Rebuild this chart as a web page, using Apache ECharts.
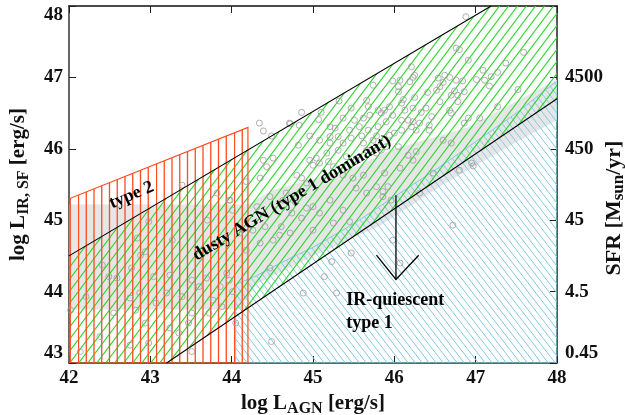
<!DOCTYPE html>
<html><head><meta charset="utf-8">
<script src="https://cdn.jsdelivr.net/npm/echarts@6/dist/echarts.min.js"></script>
<style>html,body{margin:0;padding:0;background:#fff}#c{width:625px;height:415px}</style>
</head><body><div id="c"></div>
<script>
// ---------- data ----------
const xTicks = [42, 43, 44, 45, 46, 47, 48];
const yTicks = [43, 44, 45, 46, 47, 48];
const sfrLabels = ['0.45', '4.5', '45', '450', '4500', ''];

// dusty AGN band borders
const dustyUpperX = [42, 47.19];
const dustyUpperY = [44.5, 48];
const dustyLowerX = [43.2, 48];
const dustyLowerY = [43, 46.7];

// type 2 region
const type2X = [42, 42, 44.2, 44.2];
const type2Y = [43, 45.3, 46.3, 43];

// IR-quiescent type 1 region
const quiescentX = [44.05, 44.05, 44.3, 44.6, 45.0, 45.5, 46.0, 46.5, 47.0, 47.5, 48, 48];
const quiescentY = [43, 44.1, 44.22, 44.4, 44.62, 44.95, 45.33, 45.7, 46.1, 46.5, 46.95, 43];

// grey shaded locus
const greyX = [42, 44.1, 44.3, 45.0, 45.82, 46.6, 47.54, 48, 48, 46.9, 45.94, 45.54, 44.5, 44.2, 42];
const greyY = [43.75, 43.75, 44.1, 44.5, 44.92, 45.5, 46.12, 46.4, 46.97, 46.3, 45.98, 45.75, 45.42, 45.22, 45.22];

// sources
const agnX = [
43.39,43.82,43.97,43.70,43.27,42.98,42.84,42.41,42.49,42.59,
43.04,42.88,42.94,43.51,43.60,43.39,43.97,44.01,43.88,43.72,
43.51,43.07,42.82,42.55,42.21,42.02,42.14,42.98,43.35,43.47,
43.51,42.94,44.05,42.77,43.24,43.69,43.20,42.87,42.75,43.24,
42.75,42.38,43.86,43.94,43.77,
44.18,44.35,44.51,44.47,44.49,44.88,45.00,44.72,44.26,44.10,
44.41,44.61,44.59,
44.34,44.39,44.71,44.49,44.39,44.51,44.43,44.35,44.18,44.67,
44.63,44.47,44.31,43.98,44.01,
44.82,45.08,45.21,45.37,45.31,45.17,45.04,44.96,45.08,45.00,
45.19,45.25,45.41,45.53,45.66,45.78,45.62,45.74,45.90,
44.80,44.86,44.92,44.78,44.92,45.00,44.86,44.74,
45.37,45.49,45.62,45.53,45.66,45.78,45.86,45.21,45.08,45.37,45.45,45.25,
45.32,44.86,45.10,45.07,44.83,44.72,44.96,45.66,45.74,45.47,
45.68,45.80,45.37,45.51,45.62,45.70,45.21,45.27,45.57,45.45,
45.68,45.80,45.31,45.47,45.60,45.78,45.21,
45.98,45.47,45.23,45.14,45.29,46.07,
46.88,46.76,46.80,46.91,47.59,47.37,46.21,47.09,47.27,46.25,
46.23,46.62,46.68,46.54,46.19,45.98,46.07,46.76,46.84,47.01,
47.11,47.19,46.60,46.56,47.17,46.05,46.05,46.41,46.52,46.74,
46.86,46.70,46.78,47.52,46.25,46.11,46.09,46.56,46.78,46.39,
46.23,46.13,45.94,45.88,45.84,45.98,46.68,46.70,46.33,47.27,
46.46,46.17,46.23,46.09,45.90,46.31,46.43,46.91,47.05,46.86,
46.21,46.09,46.00,45.94,46.43,46.27,
46.05,45.84,46.17,46.27,46.23,46.07,45.88,45.92,45.86,45.96,
46.60,46.70,46.80,46.95,46.97,46.48,46.72,46.31
];
const agnY = [
45.49,45.38,45.28,45.00,44.72,44.98,44.75,44.37,44.21,44.19,
44.21,44.51,44.56,44.16,44.07,43.93,44.16,44.00,43.79,43.70,
43.70,43.84,43.74,43.70,43.93,43.74,43.16,43.28,43.42,43.56,
43.16,43.56,43.56,44.33,44.23,44.19,43.98,43.98,43.91,43.49,
43.25,43.37,44.07,44.26,43.88,
44.58,44.68,44.72,44.33,43.30,43.98,44.86,44.82,44.86,44.82,
44.91,44.91,44.79,
46.36,46.25,46.36,46.18,45.84,45.87,45.75,45.59,45.54,45.38,
45.28,45.33,45.19,45.28,45.14,
46.05,46.12,46.08,46.08,45.98,45.94,45.87,45.84,45.80,45.77,
45.82,45.75,45.89,45.84,45.98,45.94,46.08,46.12,46.03,
45.63,45.59,45.52,45.26,45.17,45.19,45.03,45.10,
45.63,45.59,45.63,45.45,45.38,45.47,45.33,45.28,45.10,45.14,44.98,44.96,
46.67,46.51,46.51,46.41,46.33,46.35,46.18,46.68,46.89,46.57,
46.59,46.54,46.43,46.40,46.43,46.47,46.31,46.29,46.31,46.26,
46.26,46.31,46.17,46.15,46.18,46.18,46.17,
44.72,44.54,44.42,44.21,43.98,44.40,
47.85,47.41,47.39,47.24,47.35,47.20,47.15,47.10,47.07,47.03,
47.00,47.03,47.00,46.99,46.94,46.95,46.96,46.96,46.95,46.97,
46.96,47.01,46.93,46.87,46.88,46.87,46.80,46.79,46.82,46.81,
46.80,46.75,46.75,46.83,46.72,46.69,46.64,46.66,46.66,46.57,
46.57,46.54,46.59,46.54,46.50,46.47,46.54,46.50,46.51,46.59,
46.45,46.40,46.38,46.40,46.38,46.36,46.33,46.43,46.43,46.36,
46.31,46.26,46.22,46.19,46.26,46.26,
46.03,45.98,45.91,45.96,45.84,45.73,45.66,45.47,45.40,45.28,
46.12,46.08,45.70,45.80,45.76,45.66,44.93,45.38
];

// ---------- styling helpers ----------
const FONT = '"Liberation Serif","Times New Roman",serif';
const xMin = xTicks[0], xMax = xTicks[xTicks.length - 1];
const yMin = yTicks[0], yMax = yTicks[yTicks.length - 1];

function hatch(w, h, color, dir, lw) {
  const c = document.createElement('canvas');
  c.width = w; c.height = h;
  const g = c.getContext('2d');
  g.strokeStyle = color; g.lineWidth = lw;
  g.beginPath();
  for (const o of [-w, 0, w]) {
    if (dir === '/') { g.moveTo(o - w, 2 * h); g.lineTo(o + 2 * w, -h); }
    else { g.moveTo(o - w, -h); g.lineTo(o + 2 * w, 2 * h); }
  }
  g.stroke();
  return { image: c, repeat: 'repeat' };
}
function vhatch(spacing, n, color, lw) {
  const w = Math.round(spacing * n);
  const c = document.createElement('canvas');
  c.width = w; c.height = 4;
  const g = c.getContext('2d');
  g.strokeStyle = color; g.lineWidth = lw;
  g.beginPath();
  for (let i = 0; i < n; i++) { const x = 0.5 + i * spacing; g.moveTo(x, 0); g.lineTo(x, 4); }
  g.stroke();
  return { image: c, repeat: 'repeat' };
}

function zip(a, b) { return a.map((v, i) => [v, b[i]]); }

function polySeries(xs, ys, style, z) {
  return {
    type: 'custom', z: z, silent: true, clip: true,
    data: [[xs[0], ys[0]]],
    renderItem: function (params, api) {
      return { type: 'polygon', shape: { points: xs.map((x, i) => api.coord([x, ys[i]])) }, style: style };
    }
  };
}

// dusty region built from the two border lines and the frame corners
const dustyX = [xMin, dustyUpperX[0], dustyUpperX[1], xMax, dustyLowerX[1], dustyLowerX[0]];
const dustyY = [yMin, dustyUpperY[0], dustyUpperY[1], yMax, dustyLowerY[1], dustyLowerY[0]];

const greenFill = hatch(9, 12, '#2ed82e', '/', 1.1);
const blueFill = hatch(7, 9, '#86c8e6', '\\', 1);
const orangeFill = vhatch(7.75, 10, '#ff4b1e', 1.3);

const labelBase = { fontFamily: FONT, fontWeight: 'bold', fontSize: 19, color: '#111' };
const nameRich = {
  n: { fontFamily: FONT, fontWeight: 'bold', fontSize: 21, color: '#111', lineHeight: 26 },
  s: { fontFamily: FONT, fontWeight: 'bold', fontSize: 16, color: '#111', lineHeight: 14, verticalAlign: 'bottom' }
};
const nameRichG = {
  n: { fontFamily: FONT, fontWeight: 'bold', fontSize: 22, fill: '#111', lineHeight: 26 },
  s: { fontFamily: FONT, fontWeight: 'bold', fontSize: 17, fill: '#111', lineHeight: 14, verticalAlign: 'bottom' }
};
const axisLineStyle = { color: '#333', width: 1.5 };
const tickStyle = { inside: true, length: 7, lineStyle: { color: '#222', width: 1 } };

const annotations = [
  { text: 'type 2', x: 42.77, y: 45.35, rot: 23 },
  { text: 'dusty AGN (type 1 dominant)', x: 44.74, y: 45.31, rot: 31 },
  { text: 'IR-quiescent', x: 45.41, y: 43.88, rot: 0, align: 'left' },
  { text: 'type 1', x: 45.41, y: 43.56, rot: 0, align: 'left' }
];
const arrowShaft = [[46.02, 45.35], [46.02, 44.17]];
const arrowHead = [[45.78, 44.51], [46.02, 44.17], [46.30, 44.51]];

const chart = echarts.init(document.getElementById('c'), null, { renderer: 'canvas' });
chart.setOption({
  animation: false,
  backgroundColor: '#fff',
  grid: { left: 69, right: 68, top: 6, bottom: 52, containLabel: false, outerBoundsMode: 'none' },
  graphic: [{
    type: 'text', x: 614, y: 208, rotation: Math.PI / 2, silent: true,
    style: { text: '{n|SFR [M}{s|sun}{n|/yr]}', rich: nameRichG, align: 'center', verticalAlign: 'middle',
             fontFamily: FONT, fontWeight: 'bold', fontSize: 22, fill: '#111' }
  }],
  xAxis: [
    {
      type: 'value', min: xMin, max: xMax, interval: 1, position: 'bottom',
      axisLine: { onZero: false, lineStyle: axisLineStyle },
      axisTick: tickStyle, splitLine: { show: false },
      axisLabel: Object.assign({ margin: 6 }, labelBase),
      name: '{n|log L}{s|AGN}{n| [erg/s]}', nameLocation: 'middle', nameGap: 26,
      nameTextStyle: { rich: nameRich }
    },
    {
      type: 'value', min: xMin, max: xMax, interval: 1, position: 'top',
      axisLine: { onZero: false, lineStyle: { color: '#111', width: 1.5 } },
      axisTick: tickStyle, splitLine: { show: false }, axisLabel: { show: false }
    }
  ],
  yAxis: [
    {
      type: 'value', min: yMin, max: yMax, interval: 1, position: 'left',
      axisLine: { onZero: false, lineStyle: axisLineStyle },
      axisTick: tickStyle, splitLine: { show: false },
      axisLabel: Object.assign({ margin: 6, verticalAlignMinLabel: 'bottom', verticalAlignMaxLabel: 'top' }, labelBase),
      name: '{n|log L}{s|IR, SF}{n| [erg/s]}', nameLocation: 'middle', nameGap: 37,
      nameTextStyle: { rich: nameRich }
    },
    {
      type: 'value', min: yMin, max: yMax, interval: 1, position: 'right',
      axisLine: { onZero: false, lineStyle: { color: '#222', width: 1.5 } },
      axisTick: tickStyle, splitLine: { show: false },
      axisLabel: Object.assign({
        margin: 8, verticalAlignMinLabel: 'bottom',
        formatter: function (v) { const i = yTicks.indexOf(v); return i >= 0 ? sfrLabels[i] : ''; }
      }, labelBase)
    }
  ],
  series: [
    polySeries(greyX, greyY, { fill: '#e6e6e6' }, 1),
    polySeries(quiescentX, quiescentY, { fill: blueFill, stroke: '#86c8e6', lineWidth: 1 }, 2),
    polySeries(dustyX, dustyY, { fill: greenFill }, 3),
    polySeries(type2X, type2Y, { fill: orangeFill, stroke: '#ff4b1e', lineWidth: 1.2 }, 4),
    {
      type: 'scatter', z: 5, silent: true, data: zip(agnX, agnY), symbol: 'circle', symbolSize: 6,
      itemStyle: { color: 'rgba(255,255,255,0)', borderColor: '#9c9c9c', borderWidth: 1 }
    },
    {
      type: 'line', z: 6, silent: true, data: zip(dustyUpperX, dustyUpperY), symbol: 'none',
      lineStyle: { color: '#000', width: 1.1 }
    },
    {
      type: 'line', z: 6, silent: true, data: zip(dustyLowerX, dustyLowerY), symbol: 'none',
      lineStyle: { color: '#000', width: 1.1 }
    },
    {
      type: 'custom', z: 7, silent: true, data: [arrowShaft[0]],
      renderItem: function (params, api) {
        return {
          type: 'group', children: [
            { type: 'polyline', shape: { points: arrowShaft.map(p => api.coord(p)) }, style: { stroke: '#000', lineWidth: 1.3, fill: null } },
            { type: 'polyline', shape: { points: arrowHead.map(p => api.coord(p)) }, style: { stroke: '#000', lineWidth: 1.3, fill: null } }
          ]
        };
      }
    },
    {
      type: 'custom', z: 8, silent: true, data: [[annotations[0].x, annotations[0].y]],
      renderItem: function (params, api) {
        return {
          type: 'group', children: annotations.map(a => {
            const p = api.coord([a.x, a.y]);
            return {
              type: 'text', x: p[0], y: p[1], rotation: a.rot * Math.PI / 180,
              style: { text: a.text, fontFamily: FONT, fontWeight: 'bold', fontSize: 18, fill: '#000',
                       align: a.align || 'center', verticalAlign: 'middle' }
            };
          })
        };
      }
    }
  ]
});
</script></body></html>
